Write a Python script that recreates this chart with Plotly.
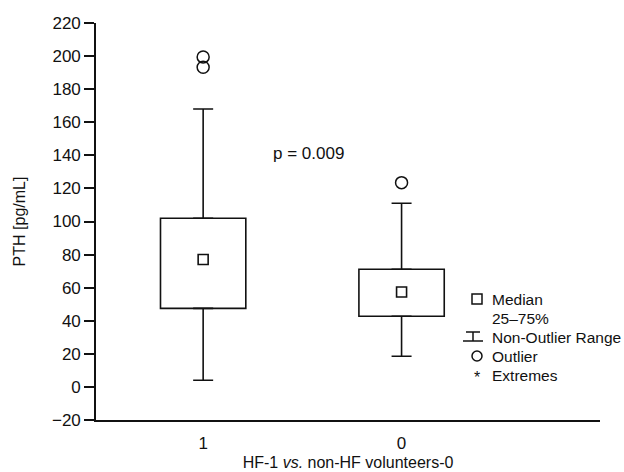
import plotly.graph_objects as go

# ---- data ----
categories = ["1", "0"]
q1 = [47.5, 42.7]
medians = [77.0, 57.4]
q3 = [102.0, 71.1]
whisker_low = [4.0, 18.5]
whisker_high = [168.0, 111.0]
outliers = {"1": [199.5, 193.3], "0": [123.5]}
y_ticks = list(range(-20, 221, 20))
p_text = "p = 0.009"
legend_labels = ["Median", "25\u201375%", "Non-Outlier Range", "Outlier", "Extremes"]

FONT = "Liberation Sans, Arial, Helvetica, sans-serif"
INK = "#111111"

xpos = list(range(len(categories)))

fig = go.Figure()

# boxes (25-75%)
fig.add_trace(go.Bar(
    x=xpos, base=q1, y=[b - a for a, b in zip(q1, q3)], width=0.43,
    marker=dict(color="white", line=dict(color=INK, width=1.6)),
    showlegend=False, hoverinfo="skip"))

# upper whiskers
fig.add_trace(go.Scatter(
    x=xpos, y=q3, mode="markers",
    marker=dict(size=1, color="rgba(0,0,0,0)"),
    error_y=dict(type="data", symmetric=False,
                 array=[h - t for h, t in zip(whisker_high, q3)],
                 arrayminus=[0] * len(xpos),
                 width=10, thickness=1.6, color=INK),
    showlegend=False, hoverinfo="skip"))

# lower whiskers
fig.add_trace(go.Scatter(
    x=xpos, y=q1, mode="markers",
    marker=dict(size=1, color="rgba(0,0,0,0)"),
    error_y=dict(type="data", symmetric=False,
                 array=[0] * len(xpos),
                 arrayminus=[b - l for b, l in zip(q1, whisker_low)],
                 width=10, thickness=1.6, color=INK),
    showlegend=False, hoverinfo="skip"))

# medians
fig.add_trace(go.Scatter(
    x=xpos, y=medians, mode="markers",
    marker=dict(symbol="square-open", size=10, color=INK, line=dict(width=1.6)),
    showlegend=False))

# outliers
ox, oy = [], []
for i, c in enumerate(categories):
    for v in outliers[c]:
        ox.append(i)
        oy.append(v)
fig.add_trace(go.Scatter(
    x=ox, y=oy, mode="markers",
    marker=dict(symbol="circle-open", size=12, color=INK, line=dict(width=1.5)),
    showlegend=False))

# ---- layout ----
W, H = 624, 472
L, R, T, B = 96, 24, 23, 52
pw, ph = W - L - R, H - T - B


def px(x):  # window pixel -> paper fraction
    return (x - L) / pw


def py(y):
    return (H - B - y) / ph


annotations = [dict(
    text=p_text, x=px(271), y=py(153), xref="paper", yref="paper",
    xanchor="left", yanchor="middle", showarrow=False,
    font=dict(family=FONT, size=17, color=INK))]

rows_y = [299, 318, 337, 356, 375]
key_x = 477
text_x = 490
for lab, ry in zip(legend_labels, rows_y):
    annotations.append(dict(
        text=lab, x=px(text_x), y=py(ry), xref="paper", yref="paper",
        xanchor="left", yanchor="middle", showarrow=False,
        font=dict(family=FONT, size=15.5, color=INK)))

# asterisk key for Extremes
annotations.append(dict(
    text="*", x=px(key_x), y=py(rows_y[4] + 2), xref="paper", yref="paper",
    xanchor="center", yanchor="middle", showarrow=False,
    font=dict(family=FONT, size=16, color=INK)))

shapes = []
# Median key (square)
shapes.append(dict(type="rect", xref="paper", yref="paper",
                   x0=px(key_x - 5), x1=px(key_x + 5),
                   y0=py(rows_y[0] + 5), y1=py(rows_y[0] - 5),
                   line=dict(color=INK, width=1.5)))
# Non-outlier range key
ry = rows_y[2]
shapes += [
    dict(type="line", xref="paper", yref="paper", x0=px(466), x1=px(480),
         y0=py(ry - 5), y1=py(ry - 5), line=dict(color=INK, width=1.5)),
    dict(type="line", xref="paper", yref="paper", x0=px(473), x1=px(473),
         y0=py(ry - 5), y1=py(ry + 4), line=dict(color=INK, width=1.5)),
    dict(type="line", xref="paper", yref="paper", x0=px(463), x1=px(483),
         y0=py(ry + 4), y1=py(ry + 4), line=dict(color=INK, width=1.5)),
]
# Outlier key (circle)
ry = rows_y[3]
shapes.append(dict(type="circle", xref="paper", yref="paper",
                   x0=px(key_x - 5), x1=px(key_x + 5),
                   y0=py(ry + 5), y1=py(ry - 5),
                   line=dict(color=INK, width=1.5)))

fig.update_layout(
    width=W, height=H,
    margin=dict(l=L, r=R, t=T, b=B, pad=0, autoexpand=False),
    paper_bgcolor="white", plot_bgcolor="white",
    font=dict(family=FONT, size=16, color=INK),
    showlegend=False,
    annotations=annotations,
    shapes=shapes,
    xaxis=dict(
        range=[-0.54, 2.0], tickvals=xpos, ticktext=categories,
        showline=True, linecolor=INK, linewidth=1.6, ticks="",
        showgrid=False, zeroline=False, ticklabelstandoff=7,
        title=dict(text="HF-1 <i>vs.</i> non-HF volunteers-0", standoff=5,
                   font=dict(family=FONT, size=16, color=INK)),
        tickfont=dict(family=FONT, size=17, color=INK)),
    yaxis=dict(
        range=[-20, 220], tickvals=y_ticks,
        showline=True, linecolor=INK, linewidth=1.6,
        ticks="outside", ticklen=10, tickwidth=1.6, tickcolor=INK,
        showgrid=False, zeroline=False,
        title=dict(text="PTH [pg/mL]", standoff=22,
                   font=dict(family=FONT, size=16, color=INK)),
        tickfont=dict(family=FONT, size=17, color=INK)),
)

fig.write_html(
    "out.html",
    config={"displayModeBar": False},
    post_script="document.body.style.margin='0';document.body.style.overflow='hidden';",
)
